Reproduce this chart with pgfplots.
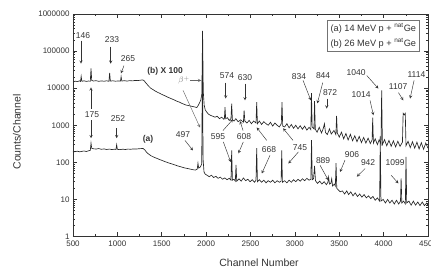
\documentclass[border=0pt]{standalone}
\usepackage{fontspec}
\setmainfont{Liberation Sans}
\usepackage{pgfplots}
\pgfplotsset{compat=1.18}
\begin{document}
\begin{tikzpicture}
\begin{axis}[
  name=ax,
  scale only axis, width=355pt, height=222.5pt,
  xmin=500, xmax=4500, ymode=log, ymin=1, ymax=1000000,
  xtick={500,1000,...,4500},
  minor x tick num=1,
  ytick={1,10,100,1000,10000,100000,1000000},
  yticklabels={1,10,100,1000,10000,100000,1000000},
  /pgf/number format/assume math mode=true,
  scaled x ticks=false,
  xticklabel style={/pgf/number format/1000 sep={}, yshift=-1pt},
  tick label style={font=\fontsize{8}{9}\selectfont, text=black!80},
  axis line style={black!80, line width=0.8pt},
  every tick/.style={black!80, line width=0.6pt},
  major tick length=4.5pt, minor tick length=2.5pt,
  xlabel={Channel Number}, ylabel={Counts/Channel},
  label style={font=\fontsize{10.5}{12}\selectfont, text=black!80},
  xlabel style={at={(axis description cs:0.524,-0.119)}, anchor=center},
  ylabel style={at={(axis description cs:-0.158,0.47)}, anchor=center},
  clip=true,
]
% spectrum (b) x 100
\addplot[black!85, line width=0.65pt] coordinates {
(500,14500)(525,15500)(550,15000)(575,15800)(585,15200)(592,21000)(600,15300)(625,15800)(650,15200)(675,15600)(695,15400)(703,34000)(711,16200)(730,15600)(760,15900)(790,15300)(820,15700)(850,15400)(880,15800)(905,15300)(913,26000)(921,15500)(950,15800)(980,15400)(1010,15700)(1035,15500)(1042,20500)(1050,15600)(1080,15900)(1110,15500)(1140,16000)(1170,15700)(1200,16200)(1230,16000)(1260,16400)(1285,16700)(1300,16000)(1325,13500)(1350,11500)(1375,10000)(1400,9200)(1425,8400)(1450,7800)(1475,7300)(1500,6800)(1525,6400)(1550,6000)(1575,5600)(1600,5300)(1625,5000)(1650,4700)(1675,4400)(1700,4200)(1725,3900)(1750,3700)(1775,3500)(1800,3400)(1825,3300)(1850,3200)(1875,3100)(1895,3000)(1910,3400)(1925,4000)(1940,4800)(1952,7000)(1960,350000)(1968,8000)(1978,3500)(1990,2600)(2005,2300)(2025,2000)(2050,1850)(2075,1750)(2100,1650)(2125,1750)(2150,1500)(2175,1650)(2200,1450)(2206,1520)(2213,3100)(2220,1500)(2240,1600)(2260,1350)(2280,1500)(2288,3800)(2296,1400)(2315,1300)(2335,1500)(2360,1250)(2390,1400)(2420,1200)(2428,2500)(2436,1300)(2460,1150)(2485,1350)(2510,1100)(2535,1300)(2562,1150)(2570,4200)(2578,1100)(2600,1300)(2625,1050)(2650,1250)(2675,1100)(2700,1000)(2725,1200)(2750,950)(2775,1150)(2800,1000)(2825,900)(2847,1100)(2855,4200)(2863,950)(2885,900)(2910,1100)(2935,850)(2960,1050)(2985,830)(3010,1000)(3035,800)(3060,970)(3085,780)(3110,950)(3135,740)(3160,880)(3180,760)(3187,7300)(3195,900)(3215,800)(3222,4500)(3230,780)(3250,650)(3275,880)(3300,620)(3320,820)(3333,1100)(3345,640)(3365,560)(3390,800)(3410,580)(3440,720)(3462,560)(3470,1800)(3478,620)(3500,480)(3525,650)(3550,430)(3575,600)(3600,400)(3625,570)(3650,380)(3675,520)(3700,360)(3725,500)(3750,340)(3775,470)(3800,330)(3825,450)(3850,320)(3870,400)(3877,1600)(3885,330)(3905,430)(3930,300)(3950,410)(3970,310)(3978,8700)(3986,300)(4010,410)(4035,280)(4060,390)(4085,270)(4110,380)(4135,260)(4160,370)(4185,270)(4212,350)(4220,2100)(4232,1900)(4244,2100)(4252,280)(4275,370)(4300,250)(4325,360)(4350,240)(4375,350)(4400,230)(4425,340)(4450,225)(4475,330)(4500,240)
};
% spectrum (a)
\addplot[black!85, line width=0.65pt] coordinates {
(500,190)(525,195)(550,200)(575,192)(600,198)(625,202)(650,196)(675,205)(695,210)(703,330)(711,240)(730,232)(760,228)(790,235)(820,225)(850,230)(880,222)(910,228)(940,220)(965,226)(984,222)(992,300)(1000,224)(1030,220)(1060,226)(1090,222)(1120,228)(1150,225)(1180,230)(1210,228)(1240,232)(1270,235)(1290,236)(1310,215)(1330,185)(1355,165)(1380,150)(1405,140)(1430,132)(1455,125)(1480,118)(1505,112)(1530,106)(1555,101)(1580,96)(1605,92)(1630,88)(1655,84)(1680,80)(1705,77)(1730,74)(1755,71)(1780,69)(1805,67)(1830,65)(1855,63)(1880,62)(1900,66)(1908,95)(1916,70)(1935,75)(1950,90)(1958,30000)(1966,120)(1976,55)(1990,48)(2010,45)(2035,41)(2060,45)(2085,39)(2110,42)(2135,37)(2160,40)(2185,35)(2210,38)(2235,34)(2260,37)(2280,33)(2288,210)(2296,33)(2315,35)(2329,31)(2337,85)(2345,31)(2370,36)(2395,31)(2420,38)(2445,32)(2470,35)(2495,30)(2520,34)(2545,29)(2562,33)(2570,240)(2578,30)(2600,34)(2625,29)(2650,33)(2675,28)(2700,32)(2725,29)(2750,33)(2775,28)(2800,32)(2825,29)(2845,31)(2852,210)(2860,29)(2885,32)(2910,28)(2935,33)(2960,29)(2985,34)(3010,30)(3035,35)(3060,31)(3085,36)(3110,32)(3135,37)(3160,33)(3180,35)(3188,400)(3196,34)(3210,36)(3222,80)(3232,32)(3255,27)(3280,31)(3305,26)(3330,30)(3355,25)(3372,29)(3380,40)(3390,26)(3405,27)(3415,36)(3425,23)(3445,26)(3456,23)(3464,95)(3472,20)(3490,18)(3510,16)(3535,17)(3560,14)(3585,17)(3605,13.5)(3630,16)(3655,12.5)(3680,15)(3705,12)(3730,14)(3755,11.5)(3780,13.5)(3805,11)(3830,12.5)(3855,10.5)(3880,12)(3905,9.5)(3930,11)(3955,9)(3962,500)(3970,9)(3995,10)(4020,8)(4045,10)(4070,8)(4095,9.5)(4120,7.5)(4145,9.5)(4170,7.5)(4190,9)(4197,37)(4205,8)(4225,9)(4245,7.5)(4252,140)(4260,8)(4285,9)(4310,7)(4335,9)(4360,7)(4385,8.5)(4410,6.8)(4435,8.5)(4460,6.8)(4485,8)(4500,7)
};
% annotations
\begin{scope}[every node/.style={font=\fontsize{8.5}{10}\selectfont, text=black!80, inner sep=0.5pt},
  ar/.style={->, >=stealth, black!80, line width=0.45pt}]
\node at (axis cs:613,263000) {146};
\draw[ar] (axis cs:590,190000) -- (axis cs:590,45700);
\node at (axis cs:940,204000) {233};
\draw[ar] (axis cs:925,132000) -- (axis cs:925,45700);
\node at (axis cs:1120,63100) {265};
\draw[ar] (axis cs:1075,40700) -- (axis cs:1040,25100);
\node at (axis cs:714,1950) {175};
\draw[ar] (axis cs:703,2820) -- (axis cs:703,10500);
\draw[ar] (axis cs:703,1350) -- (axis cs:703,447);
\node at (axis cs:1007,1510) {252};
\draw[ar] (axis cs:992,832) -- (axis cs:992,447);
\node[font=\fontsize{8.5}{10}\selectfont\bfseries] at (axis cs:1537,28200) {(b) X 100};
\node[text=black!50] at (axis cs:1751,16200) {$\beta^{+}$};
\draw[ar, black!60] (axis cs:1818,16200) -- (axis cs:1945,16200);
\draw[ar, black!60] (axis cs:1740,8700) -- (axis cs:1931,870);
\node[font=\fontsize{8.5}{10}\selectfont\bfseries] at (axis cs:1345,417) {(a)};
\node at (axis cs:1740,562) {497};
\draw[ar] (axis cs:1762,389) -- (axis cs:1852,209);
\node at (axis cs:2236,21900) {574};
\draw[ar] (axis cs:2220,14100) -- (axis cs:2220,5250);
\node at (axis cs:2438,19500) {630};
\draw[ar] (axis cs:2438,13200) -- (axis cs:2438,4680);
\node at (axis cs:3047,20400) {834};
\draw[ar] (axis cs:3092,16200) -- (axis cs:3180,4680);
\node at (axis cs:3318,21900) {844};
\draw[ar] (axis cs:3314,14100) -- (axis cs:3253,3890);
\node at (axis cs:3397,7590) {872};
\draw[ar] (axis cs:3359,5250) -- (axis cs:3359,2820);
\node at (axis cs:3690,26300) {1040};
\draw[ar] (axis cs:3810,21900) -- (axis cs:3941,9770);
\node at (axis cs:3746,6760) {1014};
\draw[ar] (axis cs:3847,4680) -- (axis cs:3885,1860);
\node at (axis cs:4163,11200) {1107};
\draw[ar] (axis cs:4167,7590) -- (axis cs:4222,4680);
\node at (axis cs:4370,23400) {1114};
\draw[ar] (axis cs:4343,16200) -- (axis cs:4298,5250);
% lower labels
\node at (axis cs:2134,501) {595};
\draw[ar] (axis cs:2194,355) -- (axis cs:2277,102);
\draw[ar] (axis cs:2190,720) -- (axis cs:2303,1450);
\node at (axis cs:2427,501) {608};
\draw[ar] (axis cs:2419,355) -- (axis cs:2363,174);
\draw[ar] (axis cs:2416,720) -- (axis cs:2382,1300);
\node at (axis cs:2709,224) {668};
\draw[ar] (axis cs:2720,155) -- (axis cs:2627,50);
\draw[ar] (axis cs:2683,390) -- (axis cs:2570,870);
\node at (axis cs:3058,257) {745};
\draw[ar] (axis cs:3040,191) -- (axis cs:2926,93);
\draw[ar] (axis cs:2979,390) -- (axis cs:2867,830);
\node at (axis cs:3318,115) {889};
\draw[ar] (axis cs:3284,83) -- (axis cs:3377,33);
\node at (axis cs:3644,166) {906};
\draw[ar] (axis cs:3565,115) -- (axis cs:3509,55);
\node at (axis cs:3825,100) {942};
\draw[ar] (axis cs:3791,68) -- (axis cs:3698,41);
\node at (axis cs:4129,100) {1099};
\draw[ar] (axis cs:4084,45) -- (axis cs:4167,27);
\end{scope}
\node[draw=black!55, line width=0.6pt, anchor=north east, fill=white, inner sep=3.5pt,
  font=\fontsize{9.2}{14.5}\selectfont, text=black!80, align=left]
  at (rel axis cs:0.977,0.973)
  {(a) 14 MeV p + \textsuperscript{nat}Ge\\(b) 26 MeV p + \textsuperscript{nat}Ge};
\end{axis}
\pgfresetboundingbox
\path[use as bounding box] ([shift={(-73pt,-31.5pt)}]ax.south west) rectangle ([shift={(3pt,14pt)}]ax.north east);
\end{tikzpicture}
\end{document}
